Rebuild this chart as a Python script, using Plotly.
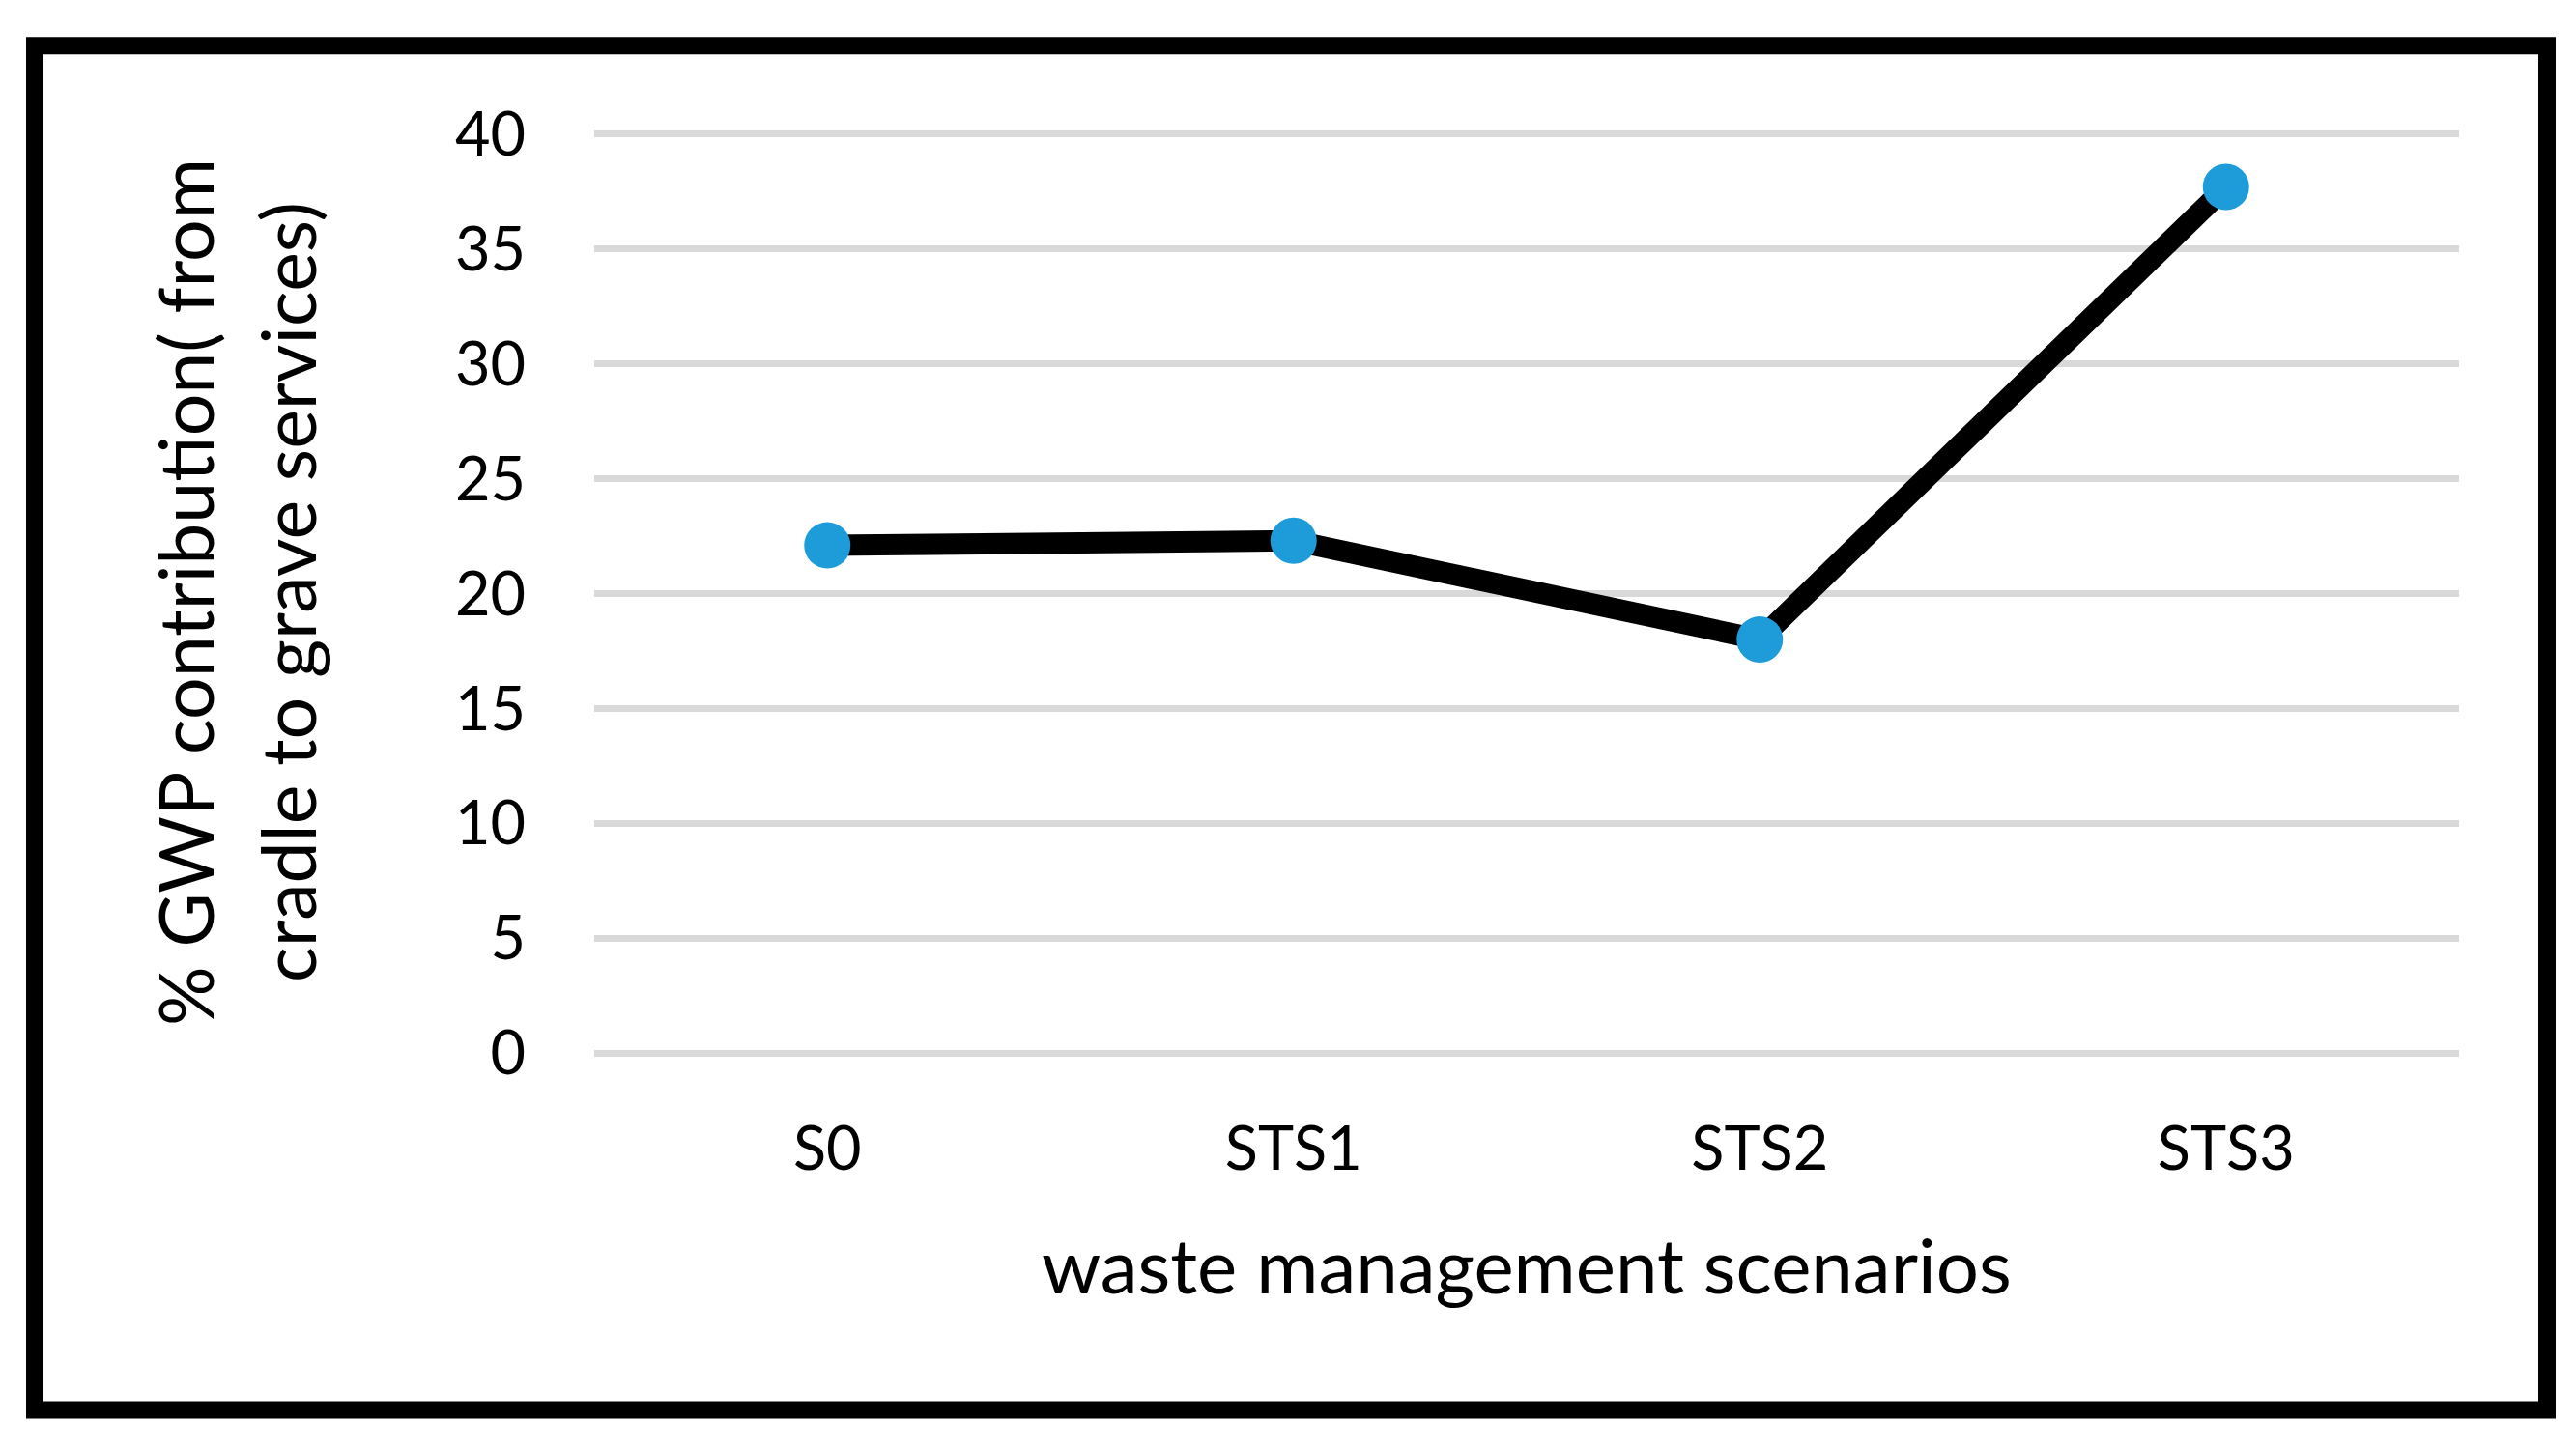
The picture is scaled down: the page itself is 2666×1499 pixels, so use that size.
import plotly.graph_objects as go

categories = ["S0", "STS1", "STS2", "STS3"]
gwp_values = [22.1, 22.3, 18.0, 37.7]
y_ticks = [0, 5, 10, 15, 20, 25, 30, 35, 40]

OFF = 8  # default page body margin
W, H = 2666 - 2 * OFF, 1499 - 2 * OFF

# target page-pixel geometry
Y0_PX, Y40_PX = 1090.5, 138.5
UNIT = (Y0_PX - Y40_PX) / 40.0
PAD = 0.2
L, R = 615, 2545
T = Y40_PX - PAD * UNIT
B = Y0_PX + PAD * UNIT
pw, ph = R - L, B - T

def px(x):
    return (x - L) / pw

def py(y):
    return (B - y) / ph

FONT = "Lato"

fig = go.Figure()
fig.add_trace(go.Scatter(
    x=categories, y=gwp_values, mode="lines+markers",
    line=dict(color="black", width=22),
    marker=dict(color="#1e9cd9", size=48, line=dict(width=0)),
    showlegend=False, cliponaxis=False,
))

fig.update_layout(
    width=W, height=H,
    margin=dict(l=L - OFF, r=(W + OFF) - R, t=T - OFF, b=(H + OFF) - B, pad=0),
    paper_bgcolor="white", plot_bgcolor="white",
    font=dict(family=FONT, color="black", size=63),
    xaxis=dict(
        type="category", range=[-0.5, 3.5], showgrid=False, zeroline=False,
        showline=False, ticks="", tickfont=dict(size=63, family=FONT),
        ticklabelstandoff=52,
    ),
    yaxis=dict(
        range=[-PAD, 40 + PAD], tickvals=y_ticks, ticktext=[str(v) for v in y_ticks],
        showgrid=True, gridcolor="#d9d9d9", gridwidth=7, zeroline=False,
        showline=False, ticks="", tickfont=dict(size=63, family=FONT),
        ticklabelstandoff=70,
    ),
)

# x-axis title
fig.add_annotation(
    text="waste management scenarios", xref="paper", yref="paper",
    x=px(1580), y=py(1309), showarrow=False,
    font=dict(size=78, family=FONT), xanchor="center", yanchor="middle",
)
# y-axis title (two lines)
fig.add_annotation(
    text="% GWP contribution( from", xref="paper", yref="paper",
    x=px(191), y=py(613), showarrow=False, textangle=-90,
    font=dict(size=77, family=FONT), xanchor="center", yanchor="middle",
)
fig.add_annotation(
    text="cradle to grave services)", xref="paper", yref="paper",
    x=px(297), y=py(613), showarrow=False, textangle=-90,
    font=dict(size=77, family=FONT), xanchor="center", yanchor="middle",
)

# outer frame
fig.add_shape(
    type="rect", xref="paper", yref="paper",
    x0=px(36), x1=px(2636), y0=py(1460), y1=py(47),
    line=dict(color="black", width=18), fillcolor="rgba(0,0,0,0)", layer="above",
)

fig.write_html("out.html")
